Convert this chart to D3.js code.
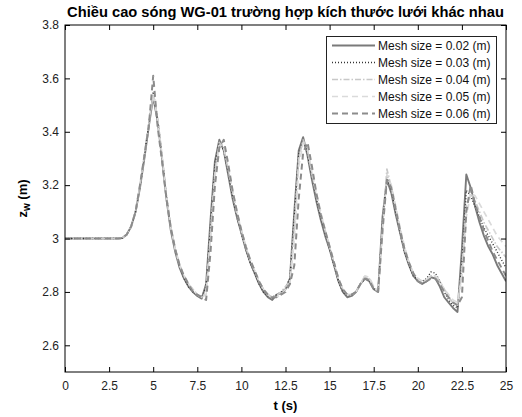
<!DOCTYPE html>
<html>
<head>
<meta charset="utf-8">
<script src="https://cdn.jsdelivr.net/npm/d3@7"></script>
<style>
  body { margin: 0; background: #fff; }
  svg { display: block; font-family: "Liberation Sans", Arial, sans-serif; }
</style>
</head>
<body>
<div id="chart"></div>
<script>
const titleText = "Chiều cao sóng WG-01 trường hợp kích thước lưới khác nhau";
const xLabelText = "t (s)";
const xTicks = [0, 2.5, 5, 7.5, 10, 12.5, 15, 17.5, 20, 22.5, 25];
const yTicks = [2.6, 2.8, 3, 3.2, 3.4, 3.6, 3.8];
const seriesNames = ["Mesh size = 0.02 (m)", "Mesh size = 0.03 (m)", "Mesh size = 0.04 (m)", "Mesh size = 0.05 (m)", "Mesh size = 0.06 (m)"];

const time = [0,0.25,0.5,0.75,1,1.25,1.5,1.75,2,2.25,2.5,2.75,3,3.25,3.5,3.75,4,4.25,4.5,4.75,
5,5.25,5.5,5.75,6,6.25,6.5,6.75,7,7.25,7.5,7.75,8,8.25,8.5,8.75,9,9.25,9.5,9.75,
10,10.25,10.5,10.75,11,11.25,11.5,11.75,12,12.25,12.5,12.75,13,13.25,13.5,13.75,14,14.25,14.5,14.75,
15,15.25,15.5,15.75,16,16.25,16.5,16.75,17,17.25,17.5,17.75,18,18.25,18.5,18.75,19,19.25,19.5,19.75,
20,20.25,20.5,20.75,21,21.25,21.5,21.75,22,22.25,22.5,22.75,23,23.25,23.5,23.75,24,24.25,24.5,24.75,25];

const mesh002 = [3,3,3,3,3,3,3,3,3,3,3,3,3,3.002,
3.015,3.045,3.10,3.19,3.30,3.42,3.53,3.44,3.30,3.15,3.03,2.95,2.89,2.85,2.82,2.80,2.785,2.775,2.83,3.07,
3.29,3.37,3.33,3.24,3.15,3.08,3.02,2.96,2.91,2.87,2.83,2.80,2.78,2.77,2.79,2.795,2.81,2.85,3.10,3.33,
3.38,3.31,3.22,3.14,3.07,3.01,2.96,2.90,2.84,2.80,2.78,2.785,2.80,2.83,2.85,2.84,2.81,2.80,3.08,3.22,
3.17,3.09,3.02,2.95,2.90,2.86,2.84,2.83,2.84,2.855,2.85,2.82,2.78,2.76,2.74,2.725,2.96,3.24,3.19,3.12,
3.06,3.01,2.97,2.94,2.90,2.87,2.84];

const mesh003 = [3,3,3,3,3,3,3,3,3,3,3,3,3,3.002,
3.015,3.045,3.10,3.19,3.31,3.43,3.55,3.45,3.31,3.16,3.04,2.96,2.90,2.85,2.82,2.80,2.79,2.78,2.82,3.05,
3.28,3.36,3.33,3.25,3.16,3.08,3.02,2.96,2.91,2.87,2.83,2.80,2.785,2.78,2.79,2.80,2.815,2.85,3.08,3.32,
3.37,3.32,3.23,3.15,3.08,3.02,2.96,2.90,2.84,2.80,2.785,2.79,2.80,2.83,2.85,2.845,2.815,2.80,3.06,3.23,
3.18,3.10,3.02,2.95,2.90,2.86,2.845,2.84,2.85,2.875,2.87,2.84,2.80,2.77,2.75,2.74,2.90,3.18,3.16,3.12,
3.08,3.04,3.01,2.98,2.95,2.92,2.89];

const mesh004 = [3,3,3,3,3,3,3,3,3,3,3,3,3,3.002,
3.015,3.045,3.10,3.20,3.31,3.43,3.54,3.45,3.31,3.16,3.04,2.96,2.90,2.86,2.83,2.81,2.79,2.78,2.80,3.02,
3.25,3.36,3.34,3.26,3.17,3.09,3.03,2.97,2.92,2.88,2.84,2.81,2.79,2.78,2.785,2.80,2.82,2.84,3.04,3.30,
3.37,3.33,3.24,3.16,3.09,3.03,2.97,2.91,2.85,2.81,2.79,2.79,2.80,2.83,2.86,2.85,2.82,2.80,3.04,3.26,
3.19,3.11,3.03,2.96,2.91,2.87,2.85,2.84,2.845,2.86,2.86,2.84,2.81,2.78,2.76,2.75,2.88,3.12,3.17,3.14,
3.10,3.06,3.03,3.00,2.97,2.95,2.93];

const mesh005 = [3,3,3,3,3,3,3,3,3,3,3,3,3,3.002,
3.015,3.045,3.10,3.20,3.31,3.43,3.54,3.45,3.31,3.16,3.04,2.96,2.90,2.86,2.83,2.81,2.79,2.78,2.79,3.00,
3.23,3.35,3.34,3.27,3.18,3.10,3.03,2.97,2.92,2.88,2.84,2.81,2.79,2.78,2.78,2.79,2.81,2.83,3.00,3.27,
3.36,3.34,3.25,3.17,3.10,3.03,2.97,2.91,2.85,2.81,2.79,2.79,2.80,2.83,2.86,2.855,2.82,2.80,3.02,3.24,
3.20,3.12,3.04,2.97,2.91,2.87,2.85,2.84,2.845,2.86,2.86,2.84,2.81,2.79,2.77,2.76,2.86,3.08,3.17,3.16,
3.13,3.10,3.07,3.04,3.01,2.99,2.97];

const mesh006 = [3,3,3,3,3,3,3,3,3,3,3,3,3,3.002,
3.015,3.045,3.10,3.20,3.31,3.42,3.61,3.42,3.29,3.15,3.04,2.96,2.90,2.86,2.83,2.80,2.79,2.78,2.77,2.95,
3.20,3.34,3.37,3.28,3.18,3.10,3.03,2.97,2.92,2.88,2.84,2.81,2.79,2.78,2.78,2.79,2.80,2.83,2.90,3.15,
3.32,3.36,3.27,3.17,3.09,3.03,2.97,2.91,2.85,2.81,2.79,2.79,2.80,2.83,2.85,2.845,2.81,2.80,3.03,3.22,
3.19,3.11,3.03,2.96,2.91,2.87,2.84,2.83,2.84,2.85,2.85,2.83,2.80,2.78,2.76,2.75,2.78,3.10,3.20,3.13,
3.08,3.03,2.99,2.95,2.92,2.89,2.86];

const seriesValues = [mesh002, mesh003, mesh004, mesh005, mesh006];
const styles = [
  {stroke: "#7a7a7a", width: 1.9, dash: null},
  {stroke: "#333333", width: 1.4, dash: "1,2"},
  {stroke: "#c8c8c8", width: 1.7, dash: "6,2,1.5,2"},
  {stroke: "#dadada", width: 1.7, dash: "6,4"},
  {stroke: "#8c8c8c", width: 2.0, dash: "6,4"}
];

const W = 522, H = 417;
const m = {left: 65, right: 16, top: 25, bottom: 45};
const svg = d3.select("#chart").append("svg").attr("width", W).attr("height", H);

const x = d3.scaleLinear().domain([0, 25]).range([m.left, W - m.right]);
const y = d3.scaleLinear().domain([2.5, 3.8]).range([H - m.bottom, m.top]);

svg.append("defs").append("clipPath").attr("id", "clip")
  .append("rect").attr("x", m.left).attr("y", m.top)
  .attr("width", W - m.left - m.right).attr("height", H - m.top - m.bottom);

// lines
const line = d3.line().x((d, i) => x(time[i])).y(d => y(d));
const g = svg.append("g").attr("clip-path", "url(#clip)");
seriesValues.forEach((vals, k) => {
  const st = styles[k];
  g.append("path").datum(vals)
    .attr("d", line)
    .attr("fill", "none")
    .attr("stroke", st.stroke)
    .attr("stroke-width", st.width)
    .attr("stroke-dasharray", st.dash)
    .attr("stroke-linejoin", "round");
});

// axes
const axStyle = sel => {
  sel.select(".domain").remove();
  sel.selectAll(".tick line").attr("stroke", "#000");
  sel.selectAll(".tick text").attr("fill", "#222").style("font-size", "12px")
    .style("font-family", "'Liberation Sans', Arial, sans-serif");
};
svg.append("g").attr("transform", `translate(0,${H - m.bottom})`)
  .call(d3.axisBottom(x).tickValues(xTicks).tickFormat(d => String(d)).tickSizeInner(-5).tickSizeOuter(0).tickPadding(9))
  .call(axStyle);
svg.append("g").attr("transform", `translate(0,${m.top})`)
  .call(d3.axisTop(x).tickValues(xTicks).tickFormat("").tickSizeInner(-5).tickSizeOuter(0))
  .call(axStyle);
svg.append("g").attr("transform", `translate(${m.left},0)`)
  .call(d3.axisLeft(y).tickValues(yTicks).tickFormat(d => String(d)).tickSizeInner(-5).tickSizeOuter(0).tickPadding(6))
  .call(axStyle);
svg.append("g").attr("transform", `translate(${W - m.right},0)`)
  .call(d3.axisRight(y).tickValues(yTicks).tickFormat("").tickSizeInner(-5).tickSizeOuter(0))
  .call(axStyle);

svg.append("rect").attr("x", m.left).attr("y", m.top)
  .attr("width", W - m.left - m.right).attr("height", H - m.top - m.bottom)
  .attr("fill", "none").attr("stroke", "#000").attr("stroke-width", 1);

// title
svg.append("text").attr("x", (m.left + W - m.right) / 2).attr("y", 17)
  .attr("text-anchor", "middle").style("font-weight", "bold").style("font-size", "14.7px")
  .attr("fill", "#000").text(titleText);

// x label
svg.append("text").attr("x", (m.left + W - m.right) / 2).attr("y", 410)
  .attr("text-anchor", "middle").style("font-weight", "bold").style("font-size", "13px")
  .text(xLabelText);

// y label
const yl = svg.append("text").attr("transform", `translate(27,${(m.top + H - m.bottom) / 2}) rotate(-90)`)
  .attr("text-anchor", "middle").style("font-weight", "bold").style("font-size", "13px");
yl.append("tspan").text("z");
yl.append("tspan").attr("dy", 3).style("font-size", "10px").text("w");
yl.append("tspan").attr("dy", -3).text(" (m)");

// legend
const lg = svg.append("g");
lg.append("rect").attr("x", 326.5).attr("y", 36.5).attr("width", 170).attr("height", 87)
  .attr("fill", "#fff").attr("stroke", "#222").attr("stroke-width", 1);
seriesNames.forEach((name, k) => {
  const yy = 45.5 + k * 17;
  const st = styles[k];
  lg.append("line").attr("x1", 332).attr("x2", 375).attr("y1", yy).attr("y2", yy)
    .attr("stroke", st.stroke).attr("stroke-width", st.width).attr("stroke-dasharray", st.dash);
  lg.append("text").attr("x", 378).attr("y", yy).attr("dy", "0.35em")
    .style("font-size", "12px").attr("fill", "#111").text(name);
});
</script>
</body>
</html>
